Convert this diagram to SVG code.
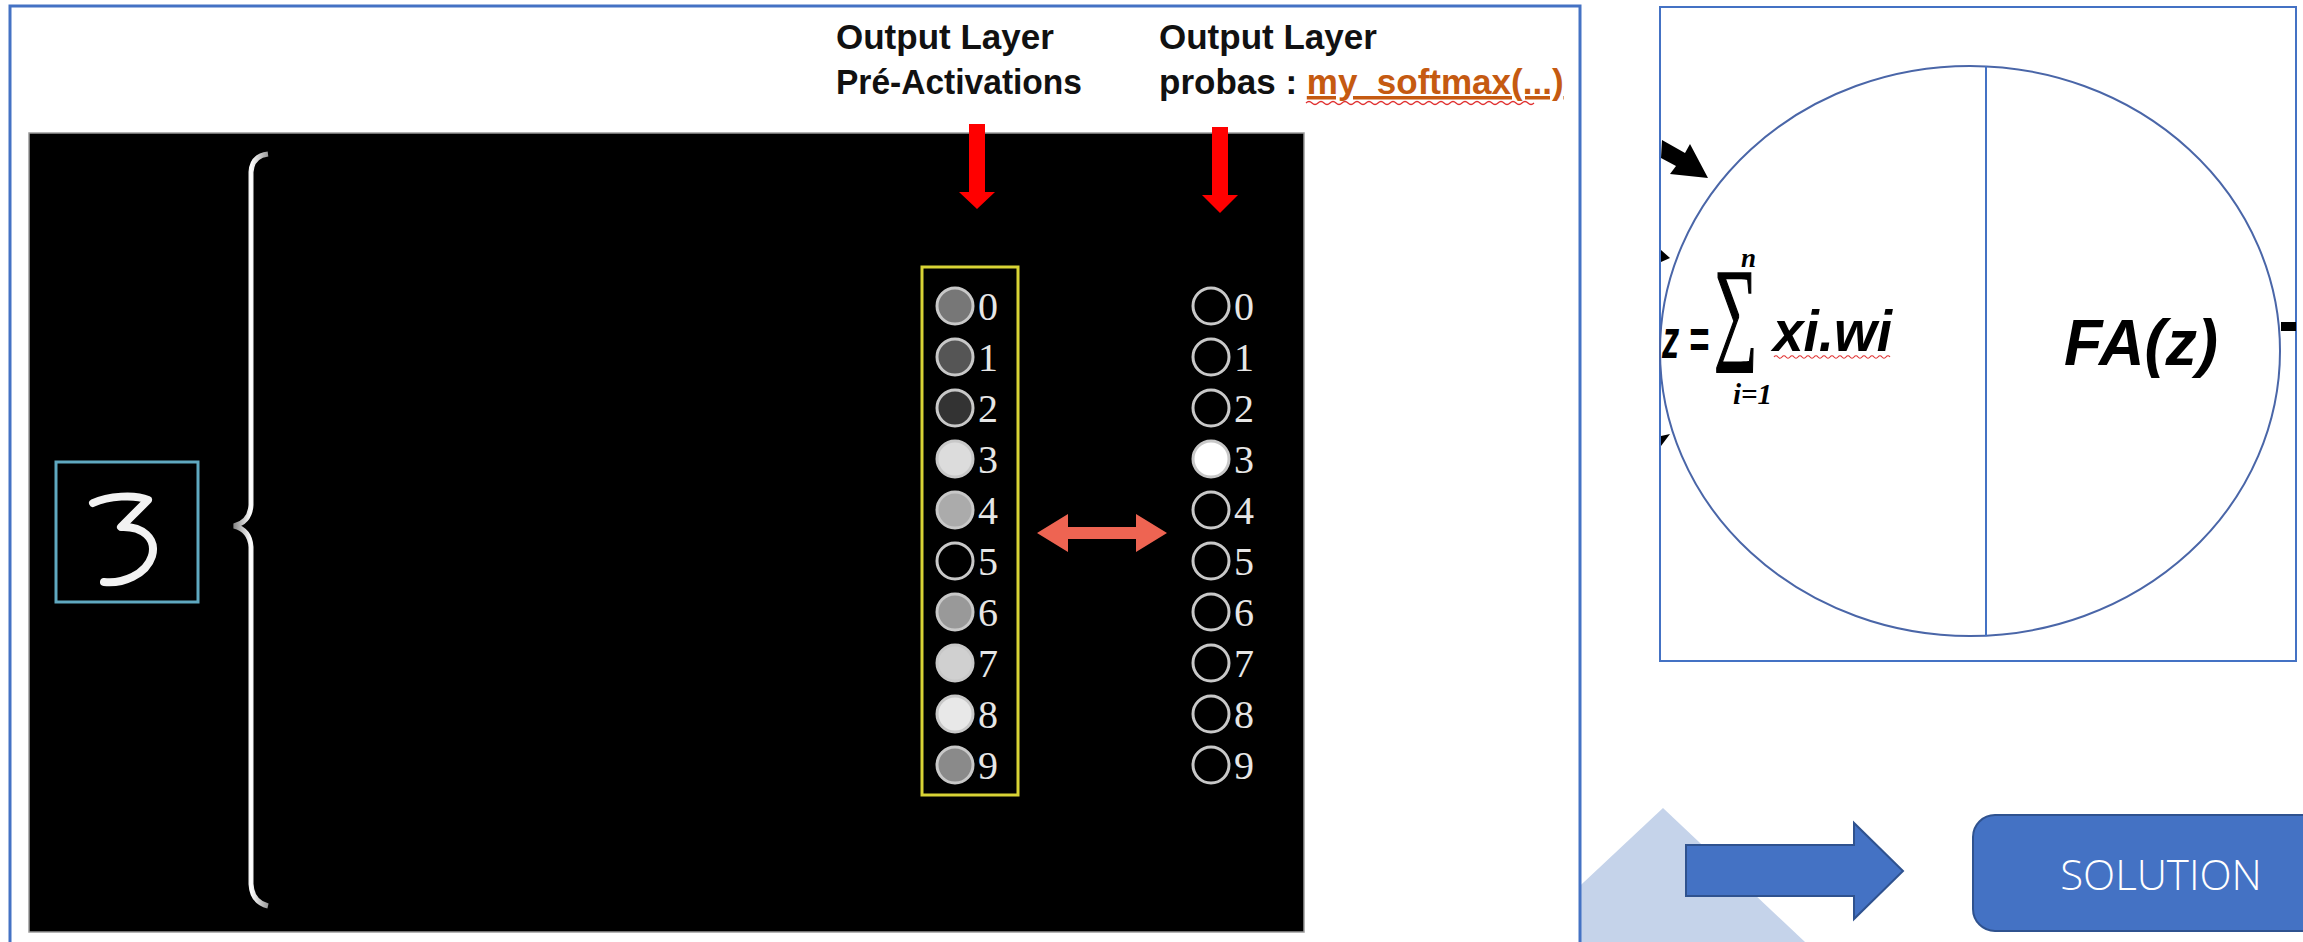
<svg xmlns="http://www.w3.org/2000/svg" width="2303" height="942" viewBox="0 0 2303 942">
<defs>
<style>
.hdr{font-family:"Liberation Sans",Arial,sans-serif;font-weight:bold;font-size:35px;fill:#111}
.dig{font-family:"Liberation Serif","DejaVu Serif",serif;font-size:40px;fill:#e6e6e6}
.node{stroke:#c8c8c8;stroke-width:3}
.red{fill:#ff0000}
.frm{font-family:"Liberation Sans",Arial,sans-serif;font-weight:bold;font-style:italic;fill:#000}
.blue{stroke:#4472C4;fill:#fff}
</style>
<linearGradient id="brace" x1="0" y1="0" x2="1" y2="0">
<stop offset="0" stop-color="#888"/><stop offset="0.5" stop-color="#fff"/><stop offset="1" stop-color="#999"/>
</linearGradient>
</defs>
<rect width="2303" height="942" fill="#fff"/>

<g id="bg-triangle"><polygon points="1663,808 1805,942 1520,942" fill="#C5D3EA"/></g>

<g id="left-panel">
<rect x="10" y="6" width="1570" height="1000" class="blue" stroke-width="3"/>
<rect x="29" y="133" width="1275" height="799" fill="#000" stroke="#9a9a9a" stroke-width="1.5"/>
</g>

<g id="headers">
<text class="hdr" x="836" y="49">Output Layer</text>
<text class="hdr" x="836" y="94" textLength="246" lengthAdjust="spacingAndGlyphs">Pré-Activations</text>
<text class="hdr" x="1159" y="49">Output Layer</text>
<text class="hdr" x="1159" y="94">probas : <tspan fill="#C55A11" text-decoration="underline">my_softmax(...)</tspan></text>
<path d="M1306 103 q3 -3 6 0 t6 0 t6 0 t6 0 t6 0 t6 0 t6 0 t6 0 t6 0 t6 0 t6 0 t6 0 t6 0 t6 0 t6 0 t6 0 t6 0 t6 0 t6 0 t6 0 t6 0 t6 0 t6 0 t6 0 t6 0 t6 0 t6 0 t6 0 t6 0 t6 0 t6 0 t6 0 t6 0 t6 0 t6 0 t6 0 t6 0 t6 0" fill="none" stroke="#e03030" stroke-width="1.2"/>
</g>

<g id="input-digit">
<rect x="56" y="462" width="142" height="140" fill="#000" stroke="#5fa8c0" stroke-width="3"/>
<path d="M93 503 C108 496 135 494 148 500 L121 527 C142 526 157 538 152 556 C146 575 122 584 104 582" fill="none" stroke="#f2f2f2" stroke-width="8" stroke-linecap="round" stroke-linejoin="round"/>
</g>

<g id="brace-node">
<path d="M268 154 Q252 156 251 172 L251 505 Q250 522 234 526 Q250 530 251 547 L251 884 Q252 902 268 906" fill="none" stroke="url(#brace)" stroke-width="5"/>
</g>

<g id="pre-activations">
<rect x="922" y="267" width="96" height="528" fill="none" stroke="#d8d335" stroke-width="3"/>
<circle class="node" cx="955" cy="306" r="18" fill="#777"/>
<circle class="node" cx="955" cy="357" r="18" fill="#555"/>
<circle class="node" cx="955" cy="408" r="18" fill="#333"/>
<circle class="node" cx="955" cy="459" r="18" fill="#dcdcdc"/>
<circle class="node" cx="955" cy="510" r="18" fill="#ababab"/>
<circle class="node" cx="955" cy="561" r="18" fill="#000"/>
<circle class="node" cx="955" cy="612" r="18" fill="#999"/>
<circle class="node" cx="955" cy="663" r="18" fill="#d0d0d0"/>
<circle class="node" cx="955" cy="714" r="18" fill="#e8e8e8"/>
<circle class="node" cx="955" cy="765" r="18" fill="#8a8a8a"/>
<text class="dig" x="978" y="320">0</text>
<text class="dig" x="978" y="371">1</text>
<text class="dig" x="978" y="422">2</text>
<text class="dig" x="978" y="473">3</text>
<text class="dig" x="978" y="524">4</text>
<text class="dig" x="978" y="575">5</text>
<text class="dig" x="978" y="626">6</text>
<text class="dig" x="978" y="677">7</text>
<text class="dig" x="978" y="728">8</text>
<text class="dig" x="978" y="779">9</text>
</g>

<g id="probas">
<circle class="node" cx="1211" cy="306" r="18" fill="#000"/>
<circle class="node" cx="1211" cy="357" r="18" fill="#000"/>
<circle class="node" cx="1211" cy="408" r="18" fill="#000"/>
<circle class="node" cx="1211" cy="459" r="18" fill="#fff" stroke="#fff"/>
<circle class="node" cx="1211" cy="510" r="18" fill="#000"/>
<circle class="node" cx="1211" cy="561" r="18" fill="#000"/>
<circle class="node" cx="1211" cy="612" r="18" fill="#000"/>
<circle class="node" cx="1211" cy="663" r="18" fill="#000"/>
<circle class="node" cx="1211" cy="714" r="18" fill="#000"/>
<circle class="node" cx="1211" cy="765" r="18" fill="#000"/>
<text class="dig" x="1234" y="320">0</text>
<text class="dig" x="1234" y="371">1</text>
<text class="dig" x="1234" y="422">2</text>
<text class="dig" x="1234" y="473">3</text>
<text class="dig" x="1234" y="524">4</text>
<text class="dig" x="1234" y="575">5</text>
<text class="dig" x="1234" y="626">6</text>
<text class="dig" x="1234" y="677">7</text>
<text class="dig" x="1234" y="728">8</text>
<text class="dig" x="1234" y="779">9</text>
</g>

<g id="neuron">
<rect x="1660" y="7" width="636" height="654" class="blue" stroke-width="2"/>
<ellipse cx="1970" cy="351" rx="310" ry="285" fill="none" stroke="#4a66a8" stroke-width="2"/>
<line x1="1986" y1="66" x2="1986" y2="636" stroke="#4472C4" stroke-width="2"/>
<text class="frm" x="1662" y="358" font-size="56" textLength="47" lengthAdjust="spacingAndGlyphs">z =</text>
<text transform="translate(1714,348) scale(0.8,1.5)" font-family="Liberation Serif,serif" font-size="76" fill="#000" stroke="#000" stroke-width="1.3">∑</text>
<text x="1741" y="267" font-family="Liberation Serif,serif" font-weight="bold" font-style="italic" font-size="27" fill="#000">n</text>
<text x="1733" y="404" font-family="Liberation Serif,serif" font-weight="bold" font-style="italic" font-size="29" fill="#000">i=1</text>
<text class="frm" x="1773" y="351" font-size="57" textLength="119" lengthAdjust="spacingAndGlyphs">xi.wi</text>
<path d="M1774 357 q2 -2.5 4 0 t4 0 t4 0 t4 0 t4 0 t4 0 t4 0 t4 0 t4 0 t4 0 t4 0 t4 0 t4 0 t4 0 t4 0 t4 0 t4 0 t4 0 t4 0 t4 0 t4 0 t4 0 t4 0 t4 0 t4 0 t4 0 t4 0 t4 0 t4 0" fill="none" stroke="#e03030" stroke-width="1.2"/>
<text class="frm" x="2064" y="365" font-size="64" textLength="154" lengthAdjust="spacingAndGlyphs">FA(z)</text>
</g>

<g id="solution">
<rect x="1973" y="815" width="370" height="116" rx="22" fill="#4472C4" stroke="#2F528F" stroke-width="2"/>
<text x="2161" y="890" text-anchor="middle" font-family="'Open Sans','Liberation Sans',sans-serif" font-weight="300" font-size="42" fill="#fff">SOLUTION</text>
</g>

<g id="connectors">
<polygon class="red" points="969,124 985,124 985,192 995,192 977,209 959,192 969,192"/>
<polygon class="red" points="1212,127 1228,127 1228,195 1238,195 1220,213 1202,195 1212,195"/>
<polygon points="1037,533 1068,514 1068,527 1136,527 1136,514 1167,533 1136,552 1136,539 1068,539 1068,552" fill="#EE6452"/>
<polygon points="1686,845 1854,845 1854,823 1903,871 1854,919 1854,896 1686,896" fill="#4472C4" stroke="#2F528F" stroke-width="2"/>
<polygon points="1662,140 1685,153 1690,144 1708,178 1670,174 1676,166 1661,158" fill="#000"/>
<polygon points="1661,250 1670,258 1661,262" fill="#000"/>
<polygon points="1661,436 1670,434 1661,446" fill="#000"/>
<rect x="2281" y="322" width="15" height="9" fill="#000"/>
</g>
</svg>
